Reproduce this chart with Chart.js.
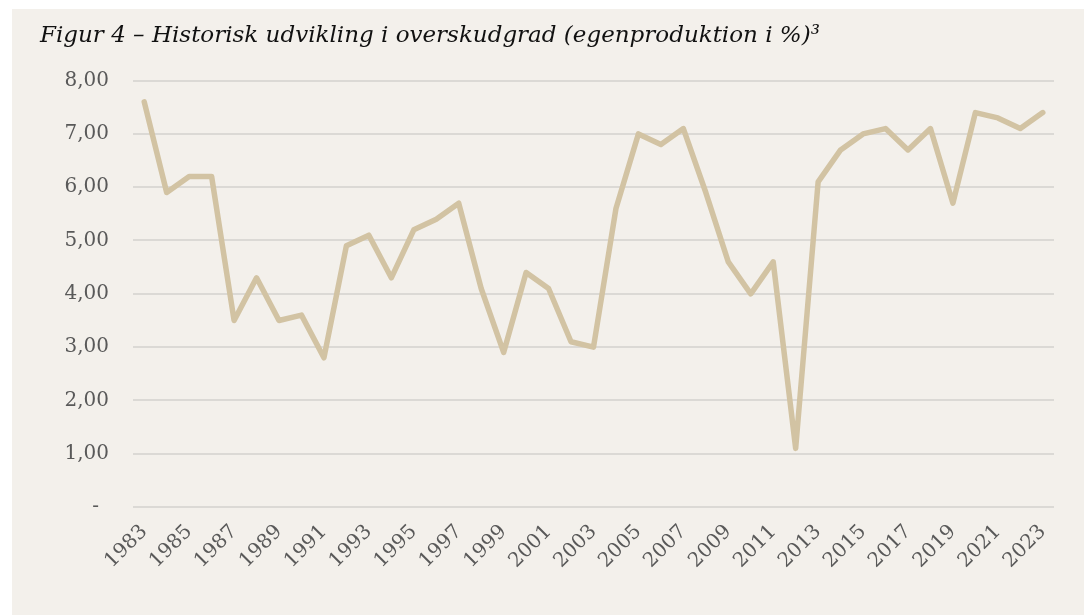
<!DOCTYPE html>
<html>
<head>
<meta charset="utf-8">
<script src="https://cdn.jsdelivr.net/npm/chart.js@4.4.1/dist/chart.umd.min.js"></script>
<style>
  html, body { margin: 0; padding: 0; background: #ffffff; }
  #wrap { width: 1084px; height: 615px; position: relative; }
</style>
</head>
<body>
<div id="wrap"><canvas id="c" width="1084" height="615"></canvas></div>
<script>
const titleText = 'Figur 4 – Historisk udvikling i overskudgrad (egenproduktion i %)³';
const years = ['1983','1984','1985','1986','1987','1988','1989','1990','1991','1992','1993','1994','1995','1996','1997','1998','1999','2000','2001','2002','2003','2004','2005','2006','2007','2008','2009','2010','2011','2012','2013','2014','2015','2016','2017','2018','2019','2020','2021','2022','2023'];
const overskudgrad = [7.6,5.9,6.2,6.2,3.5,4.3,3.5,3.6,2.8,4.9,5.1,4.3,5.2,5.4,5.7,4.1,2.9,4.4,4.1,3.1,3.0,5.6,7.0,6.8,7.1,5.9,4.6,4.0,4.6,1.1,6.1,6.7,7.0,7.1,6.7,7.1,5.7,7.4,7.3,7.1,7.4];
const yTickLabels = ['-\u2002','1,00','2,00','3,00','4,00','5,00','6,00','7,00','8,00'];

const panelPlugin = {
  id: 'panel',
  beforeDraw(chart) {
    const ctx = chart.ctx;
    ctx.save();
    ctx.fillStyle = '#ffffff';
    ctx.fillRect(0, 0, chart.width, chart.height);
    ctx.fillStyle = '#f3f0eb';
    ctx.fillRect(12, 9, chart.width - 12, chart.height - 9);
    ctx.restore();
  }
};

new Chart(document.getElementById('c'), {
  type: 'line',
  data: {
    labels: years,
    datasets: [{
      data: overskudgrad,
      borderColor: '#d2c3a3',
      borderWidth: 5.5,
      pointRadius: 0,
      tension: 0,
      fill: false,
      borderJoinStyle: 'round',
      borderCapStyle: 'round'
    }]
  },
  options: {
    responsive: false,
    animation: false,
    devicePixelRatio: 1,
    layout: { padding: { left: 40, right: 30, top: 0, bottom: 0 } },
    plugins: {
      legend: { display: false },
      tooltip: { enabled: false },
      title: {
        display: true,
        text: titleText,
        align: 'start',
        color: '#111111',
        font: { family: 'DejaVu Serif', style: 'italic', weight: 'normal', size: 23, lineHeight: 1.2 },
        padding: { top: 22, bottom: 31 }
      }
    },
    scales: {
      x: {
        type: 'category',
        offset: true,
        grid: { display: false, drawTicks: false },
        border: { display: false },
        ticks: {
          autoSkip: false,
          maxRotation: 45,
          minRotation: 45,
          padding: 13,
          color: '#595959',
          font: { family: 'DejaVu Serif', size: 20 },
          callback: function(val, idx) { return idx % 2 === 0 ? years[idx] : ''; }
        },
        afterFit(scale) { scale.height = 108; }
      },
      y: {
        min: 0,
        max: 8,
        grid: { color: '#dbd9d5', lineWidth: 2, drawTicks: false },
        border: { display: false },
        ticks: {
          stepSize: 1,
          padding: 24,
          color: '#595959',
          font: { family: 'DejaVu Serif', size: 20 },
          callback: function(v) { return yTickLabels[Math.round(v)]; }
        },
        afterFit(scale) { scale.width = 93; }
      }
    }
  },
  plugins: [panelPlugin]
});
</script>
</body>
</html>
